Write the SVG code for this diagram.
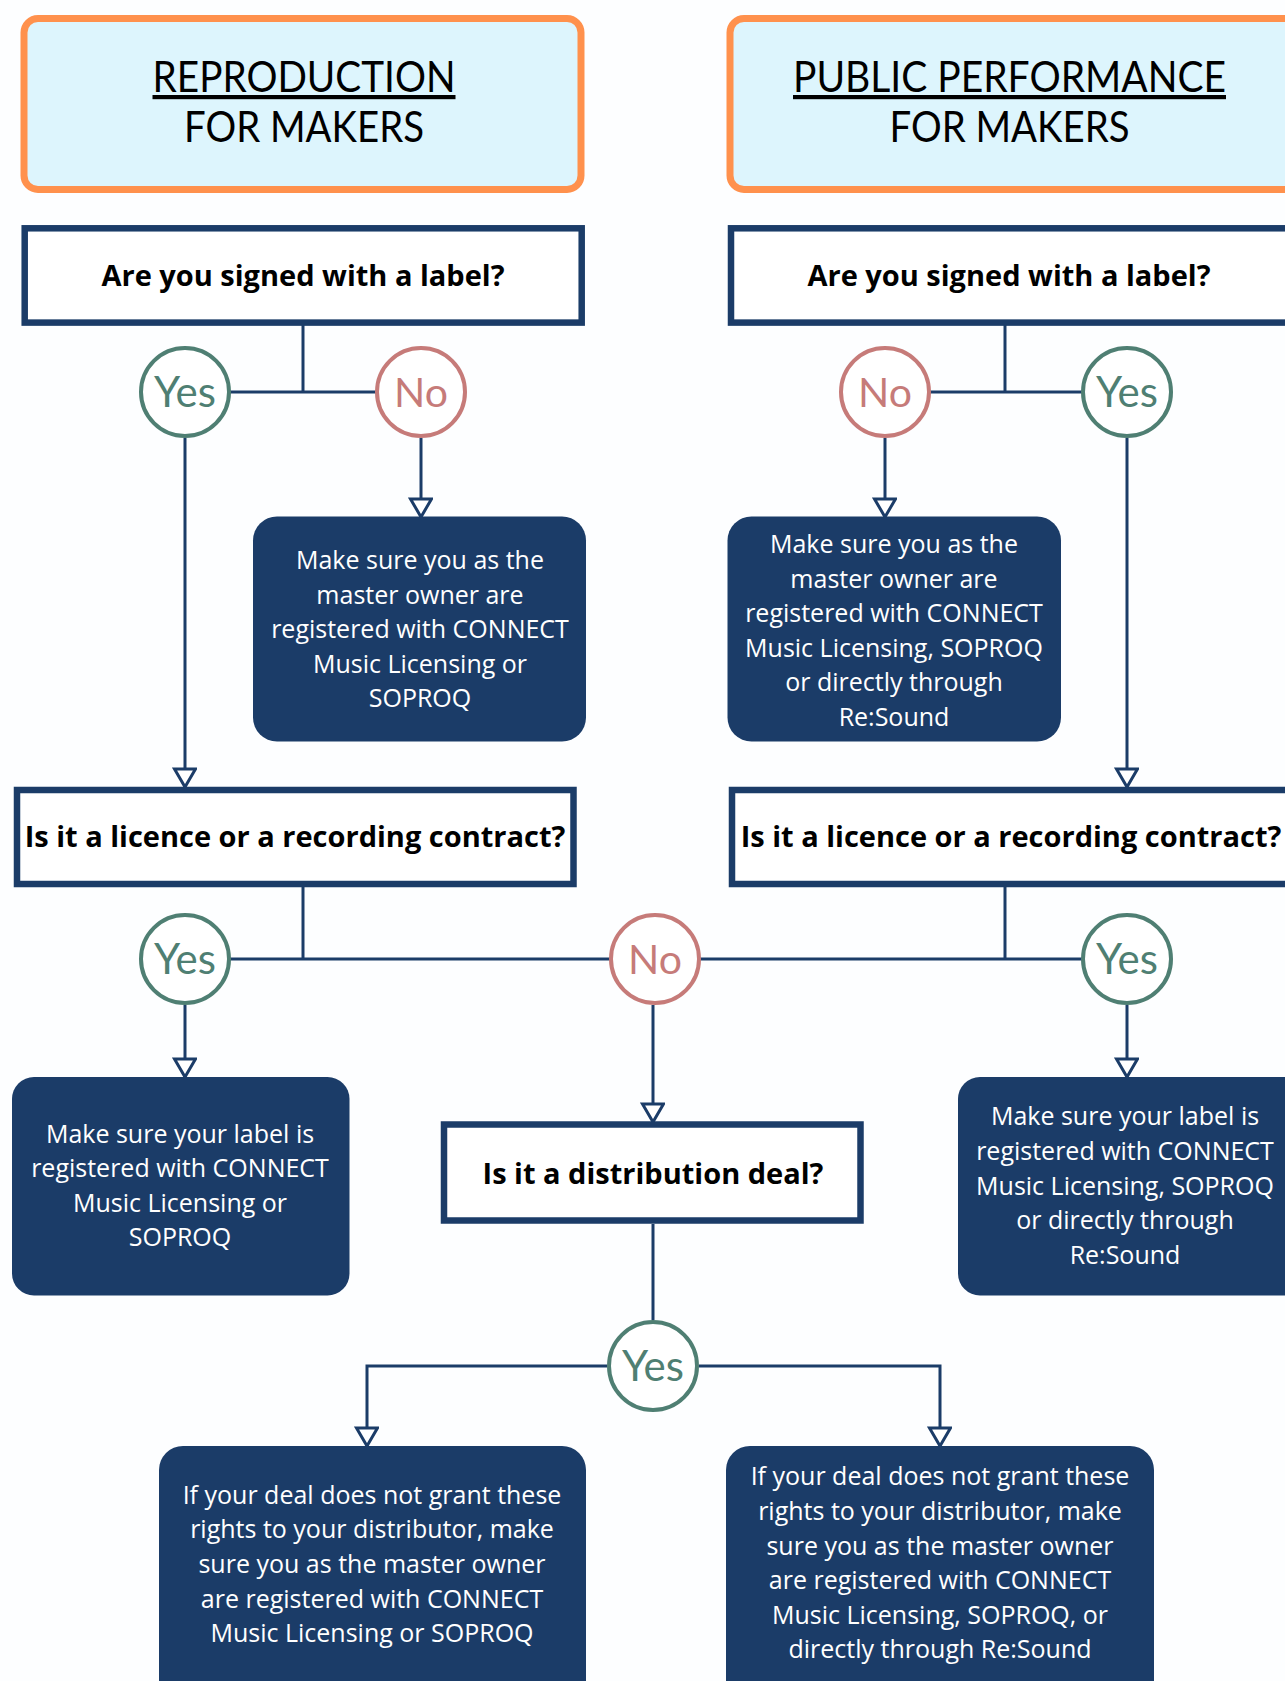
<svg xmlns="http://www.w3.org/2000/svg" width="1285" height="1681" viewBox="0 0 1285 1681">
<defs>
<style>
.title{fill:#DDF5FD;stroke:#FF914D;stroke-width:7}
.ttxt{font-family:Lato,"Liberation Sans",sans-serif;font-size:42px;fill:#000;text-anchor:middle}
.q{fill:#fff;stroke:#1B3C68;stroke-width:6.5}
.qtxt{font-family:"Open Sans","Liberation Sans",sans-serif;font-weight:bold;font-size:29px;fill:#000;text-anchor:middle}
.d{fill:#1B3C68}
.dtxt{font-family:"Open Sans","Liberation Sans",sans-serif;font-size:25px;fill:#fff;text-anchor:middle}
.yes{fill:#fff;stroke:#4F7F73;stroke-width:4}
.no{fill:#fff;stroke:#C67B79;stroke-width:4}
.ytxt{font-family:Lato,"Liberation Sans",sans-serif;font-size:42px;fill:#4F7F73;text-anchor:middle}
.ntxt{font-family:Lato,"Liberation Sans",sans-serif;font-size:41px;fill:#C67B79;text-anchor:middle}
.c{fill:none;stroke:#1B3C68;stroke-width:3}
</style>
<marker id="arr" viewBox="0 0 24 26" refX="21" refY="12" markerWidth="24" markerHeight="26" markerUnits="userSpaceOnUse" orient="auto">
<path d="M3,1.5 L21,12 L3,22.5 Z" fill="#fff" stroke="#1B3C68" stroke-width="3" stroke-linejoin="miter"/>
</marker>
</defs>
<rect x="0" y="0" width="1285" height="1681" fill="#FDFEFF"/>

<g id="connectors">
<path class="c" d="M303,325 V392"/>
<path class="c" d="M230,392 H377"/>
<path class="c" d="M185,438 V787" marker-end="url(#arr)"/>
<path class="c" d="M421,438 V517" marker-end="url(#arr)"/>
<path class="c" d="M1005,325 V392"/>
<path class="c" d="M929,392 H1083"/>
<path class="c" d="M885,438 V517" marker-end="url(#arr)"/>
<path class="c" d="M1127,438 V787" marker-end="url(#arr)"/>
<path class="c" d="M303,887 V959"/>
<path class="c" d="M1005,887 V959"/>
<path class="c" d="M230,959 H610"/>
<path class="c" d="M700,959 H1083"/>
<path class="c" d="M185,1005 V1077" marker-end="url(#arr)"/>
<path class="c" d="M653,1005 V1122" marker-end="url(#arr)"/>
<path class="c" d="M1127,1005 V1077" marker-end="url(#arr)"/>
<path class="c" d="M653,1224 V1320"/>
<path class="c" d="M607,1366 H367 V1446" marker-end="url(#arr)"/>
<path class="c" d="M699,1366 H940 V1446" marker-end="url(#arr)"/>
</g>

<g id="title-reproduction">
<rect class="title" x="24" y="18.5" width="557" height="171" rx="14"/>
<text class="ttxt" x="304" y="92" text-decoration="underline" textLength="303" lengthAdjust="spacingAndGlyphs">REPRODUCTION</text>
<text class="ttxt" x="304" y="142" textLength="240" lengthAdjust="spacingAndGlyphs">FOR MAKERS</text>
</g>
<g id="title-performance">
<rect class="title" x="730" y="18.5" width="600" height="171" rx="14"/>
<text class="ttxt" x="1009.5" y="92" text-decoration="underline" textLength="433" lengthAdjust="spacingAndGlyphs">PUBLIC PERFORMANCE</text>
<text class="ttxt" x="1009.5" y="142" textLength="240" lengthAdjust="spacingAndGlyphs">FOR MAKERS</text>
</g>

<g id="q1-left">
<rect class="q" x="24.7" y="228.3" width="557" height="94.3"/>
<text class="qtxt" x="303" y="286">Are you signed with a label?</text>
</g>
<g id="q1-right">
<rect class="q" x="731" y="228.3" width="600" height="94.3"/>
<text class="qtxt" x="1009" y="286">Are you signed with a label?</text>
</g>

<g id="yes1-left"><circle class="yes" cx="185" cy="392" r="44"/><text class="ytxt" x="185" y="407">Yes</text></g>
<g id="no1-left"><circle class="no" cx="421" cy="392" r="44"/><text class="ntxt" x="421" y="407">No</text></g>
<g id="no1-right"><circle class="no" cx="885" cy="392" r="44"/><text class="ntxt" x="885" y="407">No</text></g>
<g id="yes1-right"><circle class="yes" cx="1127" cy="392" r="44"/><text class="ytxt" x="1127" y="407">Yes</text></g>

<g id="d1-left">
<rect class="d" x="253" y="516.5" width="333" height="225" rx="24"/>
<text class="dtxt" x="420"><tspan x="420" y="569">Make sure you as the</tspan><tspan x="420" y="603.5">master owner are</tspan><tspan x="420" y="638">registered with CONNECT</tspan><tspan x="420" y="672.5">Music Licensing or</tspan><tspan x="420" y="707">SOPROQ</tspan></text>
</g>
<g id="d1-right">
<rect class="d" x="727.5" y="516.5" width="333.5" height="225" rx="24"/>
<text class="dtxt" x="894"><tspan x="894" y="553">Make sure you as the</tspan><tspan x="894" y="587.6">master owner are</tspan><tspan x="894" y="622.2">registered with CONNECT</tspan><tspan x="894" y="656.8">Music Licensing, SOPROQ</tspan><tspan x="894" y="691.4">or directly through</tspan><tspan x="894" y="726">Re:Sound</tspan></text>
</g>

<g id="q2-left">
<rect class="q" x="17" y="790" width="556.5" height="94"/>
<text class="qtxt" x="295" y="847">Is it a licence or a recording contract?</text>
</g>
<g id="q2-right">
<rect class="q" x="732" y="790" width="600" height="94"/>
<text class="qtxt" x="1011" y="847">Is it a licence or a recording contract?</text>
</g>

<g id="yes2-left"><circle class="yes" cx="185" cy="959" r="44"/><text class="ytxt" x="185" y="974">Yes</text></g>
<g id="no2"><circle class="no" cx="655" cy="959" r="44"/><text class="ntxt" x="655" y="974">No</text></g>
<g id="yes2-right"><circle class="yes" cx="1127" cy="959" r="44"/><text class="ytxt" x="1127" y="974">Yes</text></g>

<g id="d2-left">
<rect class="d" x="12" y="1077" width="337.5" height="218.5" rx="22"/>
<text class="dtxt" x="180"><tspan x="180" y="1142.5">Make sure your label is</tspan><tspan x="180" y="1177">registered with CONNECT</tspan><tspan x="180" y="1211.7">Music Licensing or</tspan><tspan x="180" y="1246.3">SOPROQ</tspan></text>
</g>
<g id="d2-right">
<rect class="d" x="958" y="1077" width="360" height="218.5" rx="22"/>
<text class="dtxt" x="1125"><tspan x="1125" y="1125.3">Make sure your label is</tspan><tspan x="1125" y="1160">registered with CONNECT</tspan><tspan x="1125" y="1194.5">Music Licensing, SOPROQ</tspan><tspan x="1125" y="1229">or directly through</tspan><tspan x="1125" y="1263.7">Re:Sound</tspan></text>
</g>

<g id="q3">
<rect class="q" x="444" y="1124.5" width="416.5" height="96"/>
<text class="qtxt" x="653" y="1184">Is it a distribution deal?</text>
</g>

<g id="yes3"><circle class="yes" cx="653" cy="1366" r="44"/><text class="ytxt" x="653" y="1381">Yes</text></g>

<g id="d3-left">
<rect class="d" x="159" y="1446" width="427" height="260" rx="24"/>
<text class="dtxt" x="372"><tspan x="372" y="1503.6">If your deal does not grant these</tspan><tspan x="372" y="1538">rights to your distributor, make</tspan><tspan x="372" y="1573">sure you as the master owner</tspan><tspan x="372" y="1607.5">are registered with CONNECT</tspan><tspan x="372" y="1642">Music Licensing or SOPROQ</tspan></text>
</g>
<g id="d3-right">
<rect class="d" x="726" y="1446" width="428" height="260" rx="24"/>
<text class="dtxt" x="940"><tspan x="940" y="1485.4">If your deal does not grant these</tspan><tspan x="940" y="1520">rights to your distributor, make</tspan><tspan x="940" y="1554.6">sure you as the master owner</tspan><tspan x="940" y="1589">are registered with CONNECT</tspan><tspan x="940" y="1623.8">Music Licensing, SOPROQ, or</tspan><tspan x="940" y="1658.4">directly through Re:Sound</tspan></text>
</g>
</svg>
